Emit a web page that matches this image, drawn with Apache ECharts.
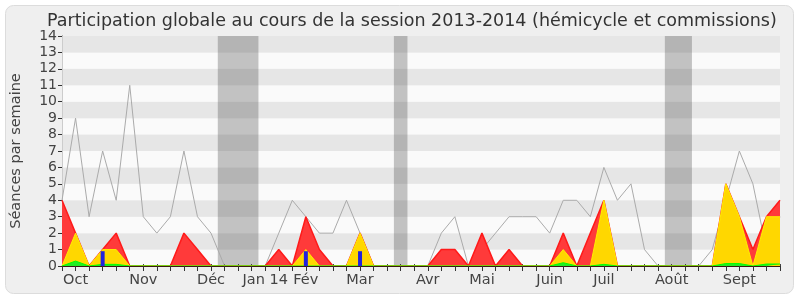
<!DOCTYPE html>
<html><head><meta charset="utf-8">
<script src="https://cdn.jsdelivr.net/npm/echarts@6/dist/echarts.min.js"></script>
<style>html,body{margin:0;padding:0;background:#fff}#c{width:800px;height:300px}</style>
</head><body><div id="c"></div>
<script>
// Week index 0..53 (session 2013-2014)
const weeks = Array.from({length: 54}, (_, i) => i);
const monthLabels = {1:'Oct',6:'Nov',11:'Déc',15:'Jan 14',18:'Fév',22:'Mar',27:'Avr',31:'Mai',36:'Juin',40:'Juil',45:'Août',50:'Sept'};
const yTicks = [0,1,2,3,4,5,6,7,8,9,10,11,12,13,14];
const totalSeances = [4,9,3,7,4,11,3,2,3,7,3,2,0,0,0,0,2,4,3,2,2,4,2,0,0,0,0,0,2,3,0,1,2,3,3,3,2,4,4,3,6,4,5,1,0,0,0,0,1,4,7,5,1,3];
const presences    = [4,2,0,1,2,0,0,0,0,2,1,0,0,0,0,0,1,0,3,1,0,0,2,0,0,0,0,0,1,1,0,2,0,1,0,0,0,2,0,2,4,0,0,0,0,0,0,0,0,5,3,1,3,4];
const commissions  = [0,2,0,1,1,0,0,0,0,0,0,0,0,0,0,0,0,0,1,0,0,0,2,0,0,0,0,0,0,0,0,0,0,0,0,0,0,1,0,0,4,0,0,0,0,0,0,0,0,5,3,0,3,3];
const hemicycle    = [0,0.3,0,0.1,0.1,0,0,0,0,0,0,0,0,0,0,0,0,0,0,0,0,0,0,0,0,0,0,0,0,0,0,0,0,0,0,0,0,0.2,0,0,0.1,0,0,0,0,0,0,0,0,0.15,0.15,0,0.12,0.12];
const interventions= [0,0,0,0.9,0,0,0,0,0,0,0,0,0,0,0,0,0,0,0.9,0,0,0,0.9,0,0,0,0,0,0,0,0,0,0,0,0,0,0,0,0,0,0,0,0,0,0,0,0,0,0,0,0,0,0,0];
const vacances = [[12,14],[25,25],[45,46]];

const pts = arr => weeks.map(i => [i, arr[i]]);
const chart = echarts.init(document.getElementById('c'), null, {renderer:'canvas'});
const FONT = 'DejaVu Sans';
chart.setOption({
  animation: false,
  backgroundColor: '#ffffff',
  graphic: [{type:'rect', z:-10, shape:{x:5.5,y:5.5,width:788,height:288,r:8}, style:{fill:'#efefef', stroke:'#dcdcdc', lineWidth:1}}],
  title: {text:'Participation globale au cours de la session 2013-2014 (hémicycle et commissions)', left:42, top:7,
    textStyle:{fontFamily:FONT, fontSize:17.5, fontWeight:'normal', color:'#333'}},
  grid: {left:62, right:20, top:36, bottom:34},
  xAxis: [{
    type:'value', min:0, max:53, interval:1, z:10,
    axisLine:{show:true, lineStyle:{color:'#3a1a10', width:1}},
    axisTick:{show:true, length:5, inside:false, lineStyle:{color:'#333'}},
    splitLine:{show:false},
    axisLabel:{interval:0, margin:7, fontFamily:FONT, fontSize:14.5, color:'#444', formatter: v => monthLabels[v] || ''}
  },{
    type:'value', position:'top', min:0, max:53, interval:1,
    axisLine:{show:false}, axisTick:{show:true, length:2, lineStyle:{color:'#444'}},
    axisLabel:{show:false}, splitLine:{show:false}
  }],
  yAxis: [{
    type:'value', min:0, max:14, interval:1,
    name:'Séances par semaine', nameLocation:'middle', nameGap:38, nameRotate:90,
    nameTextStyle:{fontFamily:FONT, fontSize:14.5, color:'#444'},
    axisLine:{show:true, lineStyle:{color:'#333'}},
    axisTick:{show:true, length:4, lineStyle:{color:'#333'}},
    axisLabel:{fontFamily:FONT, fontSize:14, color:'#444', margin:5, formatter: v => yTicks.includes(v) ? String(v) : ''},
    splitLine:{show:false},
    splitArea:{show:true, areaStyle:{color:['#fafafa','#e6e6e6']}}
  },{
    type:'value', position:'right', min:0, max:14, interval:1,
    axisLine:{show:true, lineStyle:{color:'#cccccc'}}, axisTick:{show:false}, axisLabel:{show:false}, splitLine:{show:false}
  }],
  series: [
    {type:'line', name:'total', data: pts(totalSeances), symbol:'none', z:1,
     lineStyle:{color:'#aaaaaa', width:1},
     markArea:{silent:true, itemStyle:{color:'rgba(50,50,50,0.28)'},
       data: vacances.map(v => [{xAxis: v[0]-0.5}, {xAxis: v[1]+0.5}])}},
    {type:'line', name:'presences', data: pts(presences), symbol:'none', z:2,
     lineStyle:{color:'#ff1a1a', width:1.5}, areaStyle:{color:'#ff3a3a', opacity:1}},
    {type:'line', name:'commissions', data: pts(commissions), symbol:'none', z:3,
     lineStyle:{color:'#ffee00', width:1}, areaStyle:{color:'#ffd700', opacity:1}},
    {type:'line', name:'hemicycle', data: pts(hemicycle), symbol:'none', z:4,
     lineStyle:{color:'#00ff00', width:1}, areaStyle:{color:'#22ee22', opacity:1}},
    {type:'bar', name:'interventions', data: pts(interventions), barWidth:4, z:5,
     itemStyle:{color:'#2222dd'}}
  ]
});
</script></body></html>
